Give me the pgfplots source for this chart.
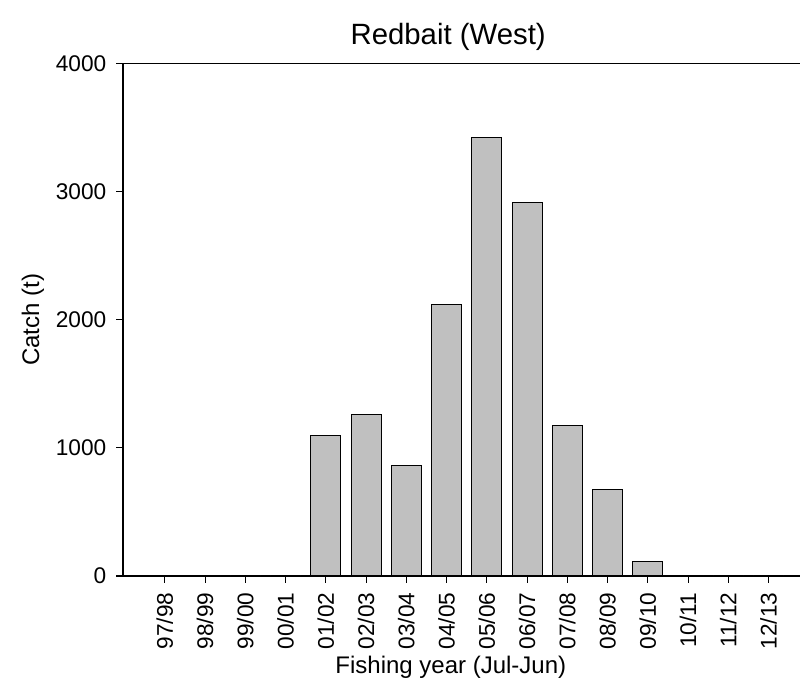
\documentclass[border=0pt]{standalone}
\usepackage{fontspec}
\setmainfont{Liberation Sans}
\usepackage{pgfplots}
\pgfplotsset{compat=1.18}
\definecolor{barfill}{RGB}{192,192,192}

\begin{document}
\begin{tikzpicture}
  \begin{axis}[
    scale only axis,
    width=507.75pt, height=384.4pt,
    at={(92.25pt,78pt)}, anchor=south west,
    axis lines=left,
    axis line style={-, line width=1pt},
    tick align=outside,
    major tick length=5pt,
    tick style={line width=0.9pt, black},
    xmin=-1.04, xmax=15.78,
    ymin=0, ymax=4000,
    ytick={0,1000,2000,3000,4000},
    xtick={0,...,15},
    xticklabels={97/98,98/99,99/00,00/01,01/02,02/03,03/04,04/05,05/06,06/07,07/08,08/09,09/10,10/11,11/12,12/13},
    x tick label style={rotate=90, anchor=east},
    xticklabel shift=4pt,
    yticklabel shift=4pt,
    ticklabel style={font=\fontsize{17}{20}\selectfont},
    /pgf/number format/assume math mode=true,
    scaled y ticks=false,
    yticklabel style={/pgf/number format/1000 sep={}},
    xlabel={Fishing year (Jul-Jun)},
    ylabel={Catch (t)},
    label style={font=\fontsize{18}{21}\selectfont},
    xlabel style={xshift=-8pt, yshift=2pt},
    ylabel style={yshift=2pt},
    title={Redbait (West)},
    title style={font=\fontsize{22}{26}\selectfont, xshift=-10pt},
    clip=false,
  ]
    \addplot[ybar, bar width=0.745, fill=barfill, draw=black, line width=0.8pt]
      coordinates {
        (0,0) (1,0) (2,0) (3,0)
        (4,1094) (5,1258) (6,863) (7,2119)
        (8,3421) (9,2914) (10,1175) (11,676)
        (12,115) (13,0) (14,0) (15,0)
      };
    \draw[line width=1pt] (rel axis cs:0,1) -- (rel axis cs:1,1);
  \end{axis}
  \pgfresetboundingbox
  \useasboundingbox (0,0) rectangle (600pt,510pt);
\end{tikzpicture}
\end{document}
